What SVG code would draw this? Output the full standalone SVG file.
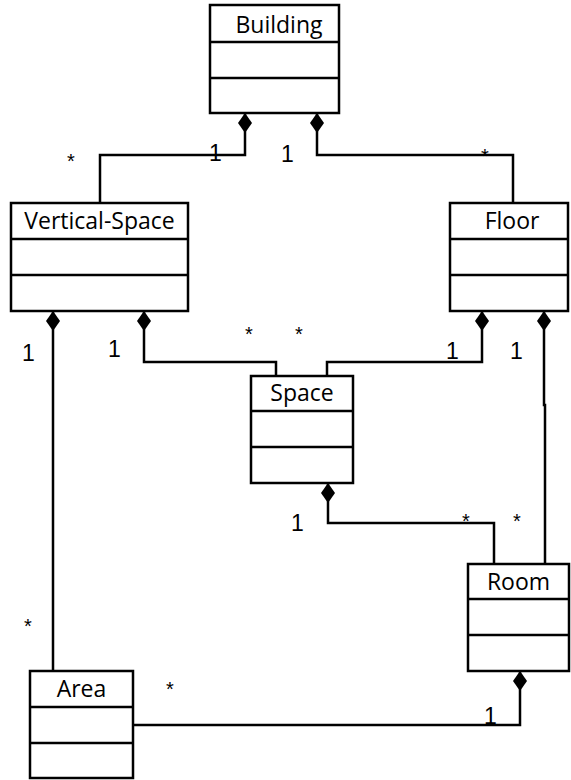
<svg xmlns="http://www.w3.org/2000/svg" width="571" height="780" viewBox="0 0 571 780">
<style>
.box{fill:#fff;stroke:#000;stroke-width:2.5}
.div{stroke:#000;stroke-width:2.5}
.name{font-family:"Open Sans","Noto Sans",sans-serif;font-size:23px;text-anchor:middle;fill:#000}
.mult{font-family:"Liberation Sans",Arial,sans-serif;font-size:23px;fill:#000}
.star{font-family:"Liberation Sans",Arial,sans-serif;font-size:20px;fill:#000}
.conn{fill:none;stroke:#000;stroke-width:2.5}
</style>
<defs>
<marker id="dia" viewBox="0 0 20 14" refX="0" refY="7" markerWidth="20" markerHeight="14" markerUnits="userSpaceOnUse" orient="auto">
<path d="M0,7 L10,0 L20,7 L10,14 Z" fill="#000"/>
</marker>
</defs>
<g id="connectors">
<path class="conn" marker-start="url(#dia)" d="M245,113 V155 H100 V203"/>
<path class="conn" marker-start="url(#dia)" d="M317,113 V155 H513 V203"/>
<path class="conn" marker-start="url(#dia)" d="M144,311 V362 H276 V376"/>
<path class="conn" marker-start="url(#dia)" d="M482,311 V362 H327 V376"/>
<path class="conn" marker-start="url(#dia)" d="M53,311 V671"/>
<path class="conn" marker-start="url(#dia)" d="M544,311 V405 H545 V564"/>
<path class="conn" marker-start="url(#dia)" d="M328,483 V523 H494 V564"/>
<path class="conn" marker-start="url(#dia)" d="M520,671 V725 H133"/>
</g>
<g id="labels">
<text class="star" x="67" y="168">*</text>
<text class="mult" x="209" y="161">1</text>
<text class="mult" x="281" y="162">1</text>
<text class="star" x="481" y="163">*</text>
<text class="mult" x="22" y="361">1</text>
<text class="mult" x="108" y="357">1</text>
<text class="star" x="245" y="341">*</text>
<text class="star" x="295" y="341">*</text>
<text class="mult" x="446" y="359">1</text>
<text class="mult" x="510" y="359">1</text>
<text class="mult" x="291" y="531">1</text>
<text class="star" x="462" y="528">*</text>
<text class="star" x="513" y="528">*</text>
<text class="star" x="24" y="633">*</text>
<text class="star" x="166" y="696">*</text>
<text class="mult" x="484" y="724">1</text>
</g>
<g id="building">
<rect class="box" x="210" y="5" width="129" height="108"/>
<line class="div" x1="210" y1="42" x2="339" y2="42"/>
<line class="div" x1="210" y1="78" x2="339" y2="78"/>
<text class="name" x="279" y="33">Building</text>
</g>
<g id="vertical-space">
<rect class="box" x="11" y="203" width="177" height="108"/>
<line class="div" x1="11" y1="239" x2="188" y2="239"/>
<line class="div" x1="11" y1="275" x2="188" y2="275"/>
<text class="name" x="99.5" y="229">Vertical-Space</text>
</g>
<g id="floor">
<rect class="box" x="450" y="203" width="118" height="108"/>
<line class="div" x1="450" y1="239" x2="568" y2="239"/>
<line class="div" x1="450" y1="275" x2="568" y2="275"/>
<text class="name" x="512" y="229">Floor</text>
</g>
<g id="space">
<rect class="box" x="251" y="376" width="102" height="107"/>
<line class="div" x1="251" y1="411" x2="353" y2="411"/>
<line class="div" x1="251" y1="447" x2="353" y2="447"/>
<text class="name" x="302" y="401">Space</text>
</g>
<g id="room">
<rect class="box" x="468" y="564" width="101" height="107"/>
<line class="div" x1="468" y1="599" x2="569" y2="599"/>
<line class="div" x1="468" y1="635" x2="569" y2="635"/>
<text class="name" x="518.5" y="590">Room</text>
</g>
<g id="area">
<rect class="box" x="30" y="671" width="103" height="107"/>
<line class="div" x1="30" y1="707" x2="133" y2="707"/>
<line class="div" x1="30" y1="743" x2="133" y2="743"/>
<text class="name" x="81.5" y="697">Area</text>
</g>
</svg>
